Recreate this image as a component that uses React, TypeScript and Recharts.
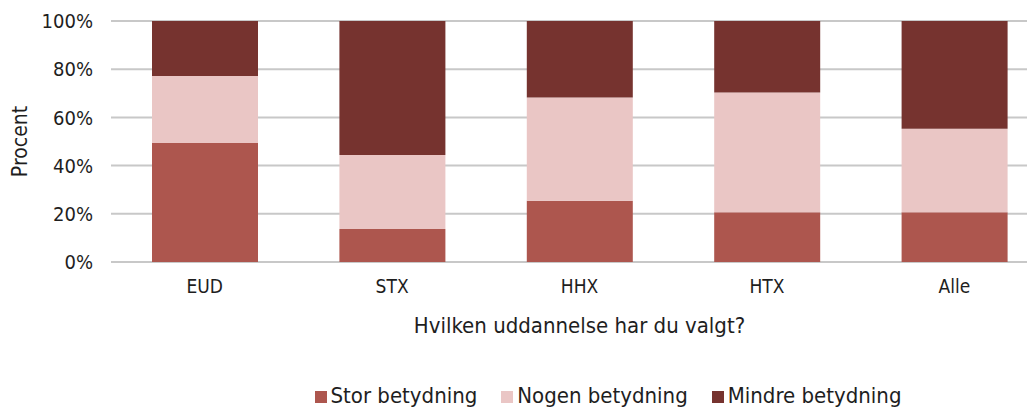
import { Bar, BarChart, CartesianGrid, Legend, XAxis, YAxis } from "recharts";

const categories = ["EUD", "STX", "HHX", "HTX", "Alle"];
const stor = [49.4, 13.7, 25.4, 20.6, 20.6];
const nogen = [27.8, 30.7, 42.9, 49.7, 34.7];
const mindre = [22.8, 55.6, 31.7, 29.7, 44.7];
const yTicks = [0, 20, 40, 60, 80, 100];
const seriesOrder = ["stor", "nogen", "mindre"];

const data = categories.map((name, i) => ({
  name,
  stor: stor[i],
  nogen: nogen[i],
  mindre: mindre[i],
}));

const font = "'DejaVu Sans Condensed', 'Noto Sans', sans-serif";
const textColor = "#1e1e1e";

export default function App() {
  return (
    <div
      style={{
        width: 1035,
        height: 410,
        overflow: "hidden",
        margin: "-8px 0 0 -8px",
        fontFamily: font,
      }}
    >
      <BarChart
        width={1050}
        height={410}
        data={data}
        margin={{ top: 21, right: 2, left: 0, bottom: 0 }}
        barSize={106}
      >
        <CartesianGrid vertical={false} stroke="#c8c8c8" strokeWidth={2} />
        <XAxis
          dataKey="name"
          axisLine={false}
          tickLine={false}
          tickSize={0}
          tickMargin={18}
          height={112}
          tick={{ fill: textColor, fontSize: 19, fontFamily: font }}
          label={{
            value: "Hvilken uddannelse har du valgt?",
            position: "insideTop",
            offset: 55,
            fill: textColor,
            fontSize: 22,
            fontFamily: font,
          }}
        />
        <YAxis
          width={111}
          domain={[0, 100]}
          ticks={yTicks}
          tickFormatter={(v) => `${v}%`}
          axisLine={false}
          tickLine={false}
          tickSize={0}
          tickMargin={18}
          tick={{ fill: textColor, fontSize: 20, fontFamily: font }}
          label={{
            value: "Procent",
            angle: -90,
            position: "insideLeft",
            offset: 20,
            fill: textColor,
            fontSize: 21,
            fontFamily: font,
            style: { textAnchor: "middle" },
          }}
        />
        <Legend
          verticalAlign="bottom"
          height={36}
          iconType="square"
          iconSize={12}
          itemSorter={(item: any) => seriesOrder.indexOf(item.dataKey)}
          wrapperStyle={{ left: 312, width: 616, bottom: -9, fontSize: 22, lineHeight: "26px", color: textColor }}
          formatter={(value) => <span style={{ color: textColor, marginRight: 14 }}>{value}</span>}
        />
        <Bar dataKey="stor" name="Stor betydning" stackId="a" fill="#ad564e" isAnimationActive={false} />
        <Bar dataKey="nogen" name="Nogen betydning" stackId="a" fill="#eac6c5" isAnimationActive={false} />
        <Bar dataKey="mindre" name="Mindre betydning" stackId="a" fill="#76332f" isAnimationActive={false} />
      </BarChart>
    </div>
  );
}
